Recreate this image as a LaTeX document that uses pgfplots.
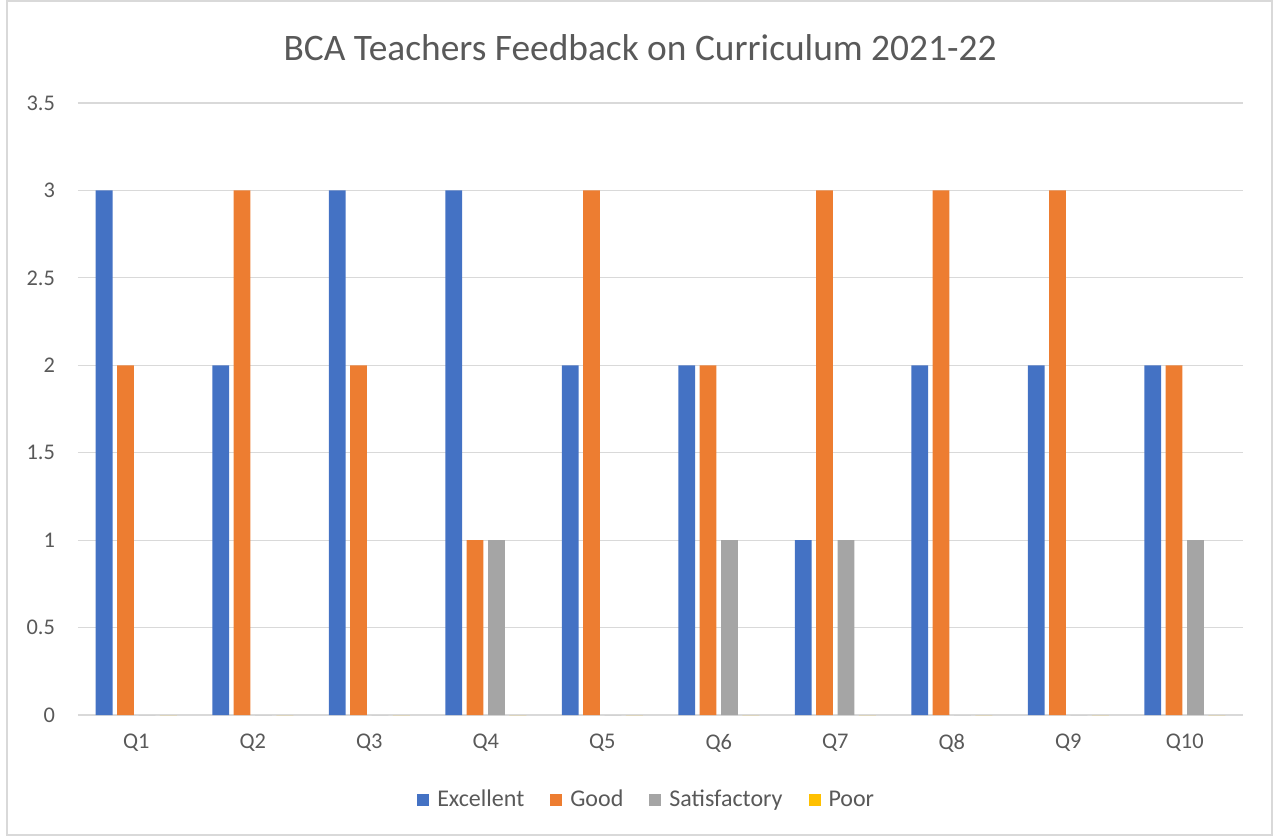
\documentclass[border=0pt]{standalone}
\usepackage{pgfplots}
\pgfplotsset{compat=1.18}
\usepackage{fontspec}
\setmainfont{Carlito}
\definecolor{cExc}{HTML}{4472C4}
\definecolor{cGood}{HTML}{ED7D31}
\definecolor{cSat}{HTML}{A5A5A5}
\definecolor{cPoor}{HTML}{FFC000}
\definecolor{txt}{HTML}{595959}
\definecolor{gridc}{HTML}{D9D9D9}

\pgfplotstableread{
q exc good sat poor
1 3 2 0 0
2 2 3 0 0
3 3 2 0 0
4 3 1 1 0
5 2 3 0 0
6 2 2 1 0
7 1 3 1 0
8 2 3 0 0
9 2 3 0 0
10 2 2 1 0
}\fb

\begin{document}
\begin{tikzpicture}
% whole chart frame: 1273x836 px at 0.5pt per px, axis origin at (78px,715px)
\useasboundingbox (-39pt,-60.5pt) rectangle (597.5pt,357.5pt);
\draw[gridc,line width=0.6pt] (-35.5pt,-60pt) rectangle (597pt,357pt);
\begin{axis}[
  scale only axis, width=582.5pt, height=306pt,
  ybar=2.3pt, bar width=8.4pt,
  xmin=0.5, xmax=10.5, ymin=0, ymax=3.5,
  xtick={1,...,10},
  xticklabels={Q1,Q2,Q3,Q4,Q5,Q6,Q7,Q8,Q9,Q10},
  ytick={0,0.5,...,3.5},
  yticklabel style={/pgf/number format/fixed},
  /pgf/number format/assume math mode=true,
  ymajorgrids, grid style={gridc,line width=0.6pt},
  axis x line=bottom, axis y line=left,
  axis line style={draw=none},
  major tick length=0pt,
  tick label style={font=\fontsize{11.2}{13}\selectfont,text=txt},
  xticklabel style={yshift=-6pt},
  yticklabel style={xshift=-8pt},
  legend columns=4,
  legend style={draw=none,at={(0.489,-42.5pt)},anchor=center,
    font=\fontsize{12}{14}\selectfont,text=txt,
    /tikz/every odd column/.append style={column sep=2pt},
    /tikz/every even column/.append style={column sep=11pt}},
  legend image code/.code={\fill[#1] (0pt,-3pt) rectangle (6pt,3pt);},
  every axis plot/.append style={draw=none},
]
\addplot[fill=cExc] table[x=q,y=exc]{\fb};
\addplot[fill=cGood] table[x=q,y=good]{\fb};
\addplot[fill=cSat] table[x=q,y=sat]{\fb};
\addplot[fill=cPoor] table[x=q,y=poor]{\fb};
\legend{Excellent,Good,Satisfactory,Poor}
\end{axis}
\node[text=txt,font=\fontsize{18.7}{22}\selectfont] at (281pt,333.5pt) {BCA Teachers Feedback on Curriculum 2021-22};
\end{tikzpicture}
\end{document}
